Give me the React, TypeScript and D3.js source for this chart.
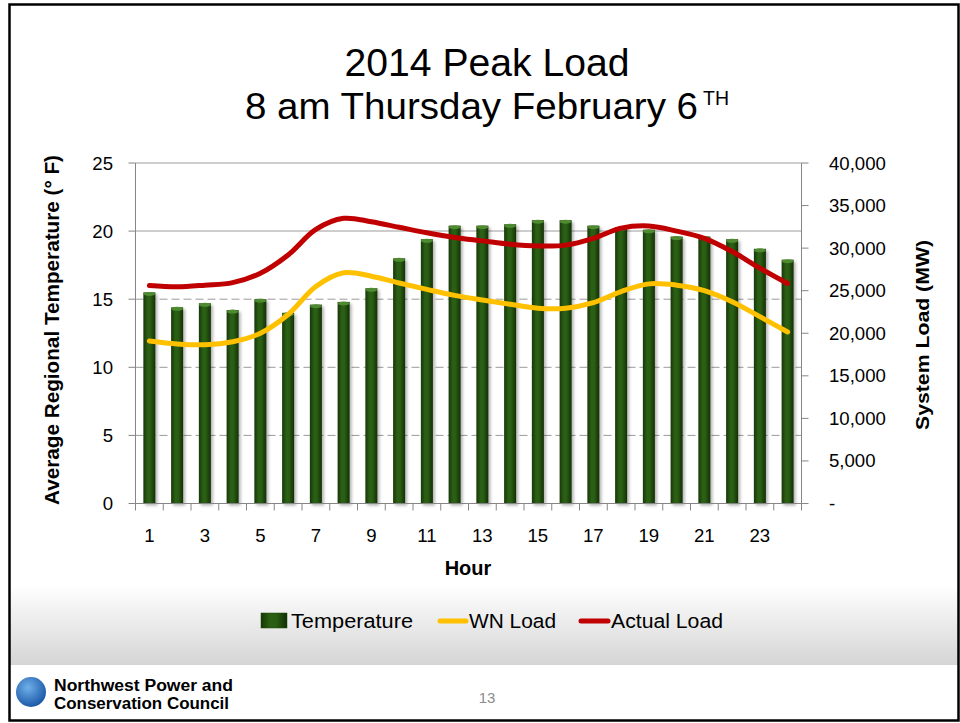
import * as d3 from "d3"
import React from "react"

// hourly values
const hours = d3.range(1, 25)
const temperature = [15.5, 14.4, 14.7, 14.2, 15.0, 14.0, 14.6, 14.8, 15.8, 18.0, 19.4, 20.4,
  20.4, 20.5, 20.8, 20.8, 20.4, 20.3, 20.1, 19.6, 19.6, 19.4, 18.7, 17.9]
const wnLoad = [19100, 18750, 18650, 19000, 20000, 22200, 25500, 27100, 26700, 25900, 25150, 24450,
  23900, 23400, 22950, 22950, 23600, 24900, 25800, 25650, 25000, 23700, 21950, 20150]
const actualLoad = [25600, 25450, 25650, 25950, 27050, 29200, 32200, 33500, 33100, 32450, 31800, 31250,
  30850, 30450, 30250, 30350, 31150, 32350, 32600, 32000, 31150, 29600, 27650, 25850]
const leftTicks = [0, 5, 10, 15, 20, 25]
const rightTicks = [0, 5000, 10000, 15000, 20000, 25000, 30000, 35000, 40000]
const hourLabels = [1, 3, 5, 7, 9, 11, 13, 15, 17, 19, 21, 23]

const FONT = "'Liberation Sans', Arial, sans-serif"

export default function App() {
  const W = 960, H = 723
  const left = 135.5, right = 801.5, top = 163, bottom = 503.5

  const x = d3.scaleBand<number>().domain(hours).range([left, right])
  const yL = d3.scaleLinear().domain([0, 25]).range([bottom, top])
  const yR = d3.scaleLinear().domain([0, 40000]).range([bottom, top])
  const cx = (h: number) => (x(h) as number) + x.bandwidth() / 2
  const barW = 12

  const line = d3.line<number>()
    .x((d, i) => cx(hours[i]))
    .y(d => yR(d))
    .curve(d3.curveCatmullRom.alpha(0.5))

  const fmt = (v: number) => v === 0 ? "-" : d3.format(",")(v)

  return (
    <svg width={W} height={H} style={{ position: "absolute", left: 0, top: 0 }} fontFamily={FONT}>
      <defs>
        <linearGradient id="band" x1="0" y1="0" x2="0" y2="1">
          <stop offset="0" stopColor="#ffffff" />
          <stop offset="1" stopColor="#d5d5d5" />
        </linearGradient>
        <linearGradient id="bar" x1="0" y1="0" x2="1" y2="0">
          <stop offset="0" stopColor="#163605" />
          <stop offset="0.35" stopColor="#2c6014" />
          <stop offset="0.6" stopColor="#2a5c12" />
          <stop offset="1" stopColor="#132f04" />
        </linearGradient>
        <radialGradient id="globe" cx="0.4" cy="0.35" r="0.7">
          <stop offset="0" stopColor="#6fb0ea" />
          <stop offset="1" stopColor="#1653a3" />
        </radialGradient>
        <filter id="shadow" x="-50%" y="-5%" width="200%" height="110%">
          <feDropShadow dx="2" dy="2" stdDeviation="1.5" floodColor="#000" floodOpacity="0.3" />
        </filter>
      </defs>

      <rect x={0} y={0} width={W} height={H} fill="#fff" />
      <rect x={9} y={585} width={949} height={80} fill="url(#band)" />

      {/* title */}
      <text x={487} y={76} textAnchor="middle" fontSize={38} textLength={285} lengthAdjust="spacingAndGlyphs">2014 Peak Load</text>
      <text x={245} y={119} fontSize={37} textLength={453} lengthAdjust="spacingAndGlyphs">8 am Thursday February 6</text>
      <text x={703} y={105} fontSize={20} textLength={26} lengthAdjust="spacingAndGlyphs">TH</text>

      {/* gridlines */}
      {leftTicks.filter(v => v > 0).map(v => (
        <line key={v} x1={left} x2={right} y1={yL(v)} y2={yL(v)}
          stroke={v >= 20 ? "#bdbdbd" : "#9a9a9a"} strokeWidth={v >= 20 ? 1.5 : 1}
          strokeDasharray={v >= 20 ? undefined : "8,4"} />
      ))}

      {/* bars */}
      {temperature.map((v, i) => {
        const bx = cx(hours[i]) - barW / 2
        const by = yL(v)
        return (
          <g key={i}>
            <rect x={bx} y={by} width={barW} height={bottom - by} fill="url(#bar)" filter="url(#shadow)" />
            <ellipse cx={bx + barW / 2} cy={by + 1.5} rx={barW / 2} ry={2} fill="#4e8a30" />
          </g>
        )
      })}

      {/* axes */}
      <line x1={left} x2={left} y1={top} y2={bottom} stroke="#868686" />
      <line x1={right} x2={right} y1={top} y2={bottom} stroke="#868686" />
      <line x1={left} x2={right} y1={bottom} y2={bottom} stroke="#868686" />
      {leftTicks.map(v => (
        <g key={v}>
          <line x1={left - 7} x2={left} y1={yL(v)} y2={yL(v)} stroke="#868686" />
          <text x={113} y={yL(v)} dy="0.35em" textAnchor="end" fontSize={18.6}>{v}</text>
        </g>
      ))}
      {rightTicks.map(v => (
        <g key={v}>
          <line x1={right} x2={right + 7} y1={yR(v)} y2={yR(v)} stroke="#868686" />
          <text x={829} y={yR(v)} dy="0.35em" fontSize={18.6}>{fmt(v)}</text>
        </g>
      ))}
      {hours.concat([25]).map((h, i) => {
        const tx = left + i * x.bandwidth()
        return <line key={h} x1={tx} x2={tx} y1={bottom} y2={bottom + 7} stroke="#868686" />
      })}
      {hourLabels.map(h => (
        <text key={h} x={cx(h)} y={542} textAnchor="middle" fontSize={18.6}>{h}</text>
      ))}

      {/* lines */}
      <path d={line(wnLoad) || ""} fill="none" stroke="#ffc000" strokeWidth={5} strokeLinecap="round" />
      <path d={line(actualLoad) || ""} fill="none" stroke="#c00000" strokeWidth={5} strokeLinecap="round" />

      {/* axis titles */}
      <text x={468} y={575} textAnchor="middle" fontSize={20} fontWeight="bold">Hour</text>
      <text transform="translate(59,330) rotate(-90)" textAnchor="middle" fontSize={20} fontWeight="bold"
        textLength={350} lengthAdjust="spacingAndGlyphs">Average Regional Temperature (° F)</text>
      <text transform="translate(929,335) rotate(-90)" textAnchor="middle" fontSize={19} fontWeight="bold"
        textLength={190} lengthAdjust="spacingAndGlyphs">System Load (MW)</text>

      {/* legend */}
      <rect x={261} y={613} width={26} height={15} fill="url(#bar)" stroke="#1d4509" strokeWidth={0.5} />
      <text x={291} y={628} fontSize={20.5} textLength={122} lengthAdjust="spacingAndGlyphs">Temperature</text>
      <line x1={440} x2={466} y1={621} y2={621} stroke="#ffc000" strokeWidth={5} strokeLinecap="round" />
      <text x={469} y={628} fontSize={20.5} textLength={87} lengthAdjust="spacingAndGlyphs">WN Load</text>
      <line x1={581} x2={608} y1={621} y2={621} stroke="#c00000" strokeWidth={5} strokeLinecap="round" />
      <text x={611} y={628} fontSize={20.5} textLength={112} lengthAdjust="spacingAndGlyphs">Actual Load</text>

      {/* footer */}
      <circle cx={31} cy={692} r={15} fill="url(#globe)" />
      <text x={54} y={691} fontSize={16} fontWeight="900" textLength={179} lengthAdjust="spacingAndGlyphs">Northwest Power and</text>
      <text x={54} y={709} fontSize={16} fontWeight="900" textLength={175} lengthAdjust="spacingAndGlyphs">Conservation Council</text>
      <text x={487} y={703} textAnchor="middle" fontSize={15} fill="#8c8c8c">13</text>

      {/* slide frame */}
      <rect x={9.5} y={4.5} width={949} height={716} fill="none" stroke="#000" strokeWidth={2.5} />
    </svg>
  )
}
